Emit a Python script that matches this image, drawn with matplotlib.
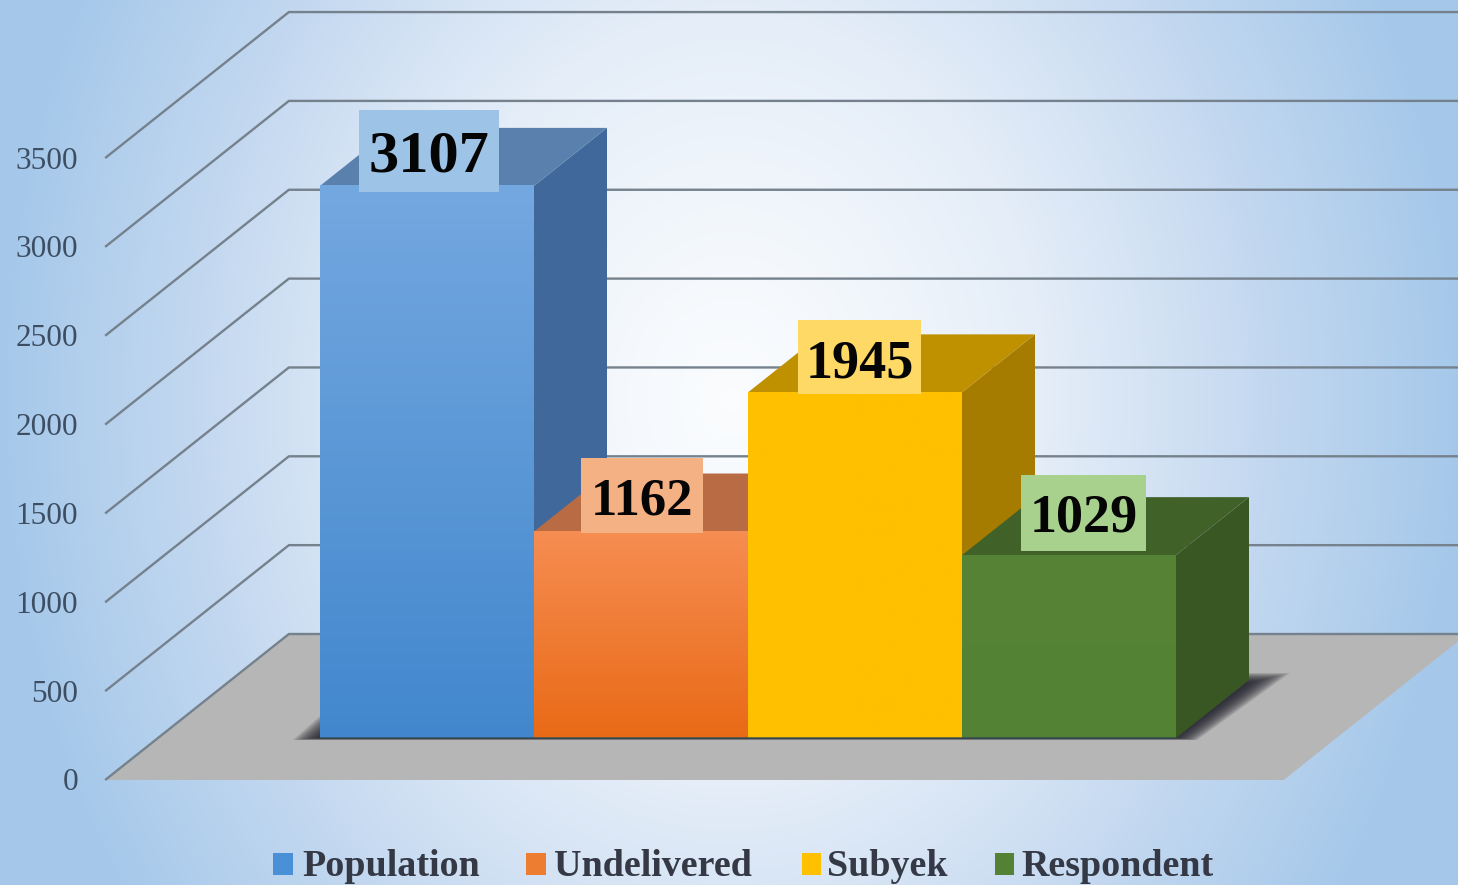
import numpy as np
import matplotlib
matplotlib.use('Agg')
import matplotlib.pyplot as plt
from matplotlib.colors import LinearSegmentedColormap
from matplotlib.patches import Polygon, Rectangle

# datos
categorias = ['Population', 'Undelivered', 'Subyek', 'Respondent']
valores = [3107, 1162, 1945, 1029]
ticks = [0, 500, 1000, 1500, 2000, 2500, 3000, 3500]

# colores de cada barra
frente_arriba = ['#74A8E0', '#F68D52', '#FFC000', '#568335']
frente_abajo = ['#4287CD', '#E96A16', '#FFC000', '#548235']
lado = ['#40689A', '#A85F38', '#A67C00', '#385723']
tapa = ['#5A80AE', '#B96C44', '#BF9000', '#406229']
caja = ['#9DC3E6', '#F4B183', '#FFD966', '#A9D18E']
leyenda_col = ['#4A90D6', '#ED7D31', '#FFC000', '#548235']

# escala en pixeles de la imagen
PX_CAT = 214.0
PX_VAL = 0.1777
X0 = 320.0
Y0 = 738.0
DX = 73.0 / PX_CAT
DY = 58.0 / PX_VAL
D_FRENTE = -0.724
D_FONDO = 1.793
X_IZQ = -0.757
X_DER = 4.75


def proy(x, v, d):
    # proyeccion oblicua: categoria, valor, profundidad
    return (x + d * DX, v + d * DY)


def px(xp, yp):
    # pixel de la imagen a coordenadas del eje
    return ((xp - X0) / PX_CAT, (Y0 - yp) / PX_VAL)


fig = plt.figure(figsize=(14.58, 8.85), dpi=100)
ax = fig.add_axes([0, 0, 1, 1])
xlim = ((0 - X0) / PX_CAT, (1458 - X0) / PX_CAT)
ylim = ((Y0 - 885) / PX_VAL, Y0 / PX_VAL)

# fondo con degradado radial
yy, xx = np.mgrid[0:885, 0:1458]
r = np.sqrt(((xx - 730) / 730.0) ** 2 + ((yy - 400) / 900.0) ** 2)
r = np.clip(r, 0, 1) ** 1.3
cmap_fondo = LinearSegmentedColormap.from_list('fondo', ['#FAFCFE', '#E4EDF8', '#C3D8F0', '#A5C8EA'])
ax.imshow(r, cmap=cmap_fondo, vmin=0, vmax=1, extent=(xlim[0], xlim[1], ylim[0], ylim[1]),
          origin='upper', aspect='auto', zorder=0, interpolation='bilinear')

# suelo
suelo = [proy(X_IZQ, 0, D_FRENTE), proy(X_DER, 0, D_FRENTE), proy(X_DER, 0, D_FONDO), proy(X_IZQ, 0, D_FONDO)]
ax.add_patch(Polygon(suelo, closed=True, fc='#B6B6B6', ec='none', zorder=1))

# rejilla
for t in ticks:
    xs, ys = zip(proy(X_IZQ, t, D_FRENTE), proy(X_IZQ, t, D_FONDO), proy(X_DER, t, D_FONDO))
    ax.plot(xs, ys, color='#75818C', lw=1.7, zorder=2, solid_capstyle='butt')
    xt, yt = px(78, 0)
    ax.text(xt, proy(X_IZQ, t, D_FRENTE)[1] - 3 / PX_VAL, str(t), ha='right', va='center',
            fontsize=22.5, color='#3E4E62', family='Liberation Serif', zorder=3)

# sombra bajo las barras, capas para simular el desenfoque
n = len(valores)
capas = 14
for i in range(capas):
    s = i / (capas - 1.0)
    forma = [proy(-0.115 + 0.115 * s, 0, -0.035 + 0.035 * s),
             proy(n + 0.11 - 0.11 * s, 0, -0.035 + 0.035 * s),
             proy(n + 0.15 - 0.13 * s, 0, 1.12 - 0.17 * s),
             proy(n - 0.2, 0, 1.12 - 0.17 * s),
             proy(-0.13 + 0.13 * s, 0, 0.4)]
    ax.add_patch(Polygon(forma, closed=True, fc='#20202A', ec='none', alpha=0.13, zorder=3))

# barras
for i, v in enumerate(valores):
    z = 4 + i
    ax.add_patch(Polygon([proy(i + 1, 0, 0), proy(i + 1, 0, 1), proy(i + 1, v, 1), proy(i + 1, v, 0)],
                         closed=True, fc=lado[i], ec='none', zorder=z))
    ax.add_patch(Polygon([proy(i, v, 0), proy(i + 1, v, 0), proy(i + 1, v, 1), proy(i, v, 1)],
                         closed=True, fc=tapa[i], ec='none', zorder=z))
    cm = LinearSegmentedColormap.from_list('b%d' % i, [frente_arriba[i], frente_abajo[i]])
    ax.imshow(np.linspace(0, 1, 256).reshape(-1, 1), cmap=cm, extent=(i, i + 1, 0, v), origin='upper',
              aspect='auto', zorder=z + 0.1)
    ax.plot([i, i + 1], [0, 0], color='#2F4A50', lw=1.4, alpha=0.7, zorder=z + 0.2, solid_capstyle='butt')

# etiquetas con caja
caja_x = [(359, 499), (581, 703), (798, 921), (1021, 1146)]
caja_y = [(110, 192), (458, 533), (320, 394), (475, 551)]
tam = [43.5, 38, 39, 39]
baja = [7, 6, 7, 5]
for i, v in enumerate(valores):
    x1, y1 = px(caja_x[i][0], caja_y[i][1])
    x2, y2 = px(caja_x[i][1], caja_y[i][0])
    ax.add_patch(Rectangle((x1, y1), x2 - x1, y2 - y1, fc=caja[i], ec='none', zorder=20))
    ax.text((x1 + x2) / 2, (y1 + y2) / 2 - baja[i] / PX_VAL, str(v), ha='center', va='center', fontsize=tam[i],
            fontweight='bold', color='#050505', family='Liberation Serif', zorder=21)

# leyenda
ley_cuad = [(273, 293), (526, 546), (802, 821), (995, 1014)]
ley_txt = [302, 554, 827, 1021]
for i, nom in enumerate(categorias):
    x1, y1 = px(ley_cuad[i][0], 875)
    x2, y2 = px(ley_cuad[i][1], 853)
    ax.add_patch(Rectangle((x1, y1), x2 - x1, y2 - y1, fc=leyenda_col[i], ec='none', zorder=20))
    xt, yt = px(ley_txt[i], 876)
    ax.text(xt, yt, nom, ha='left', va='baseline', fontsize=27.4, fontweight='bold',
            color='#353945', family='Liberation Serif', zorder=21)

ax.set_xlim(xlim)
ax.set_ylim(ylim)
ax.axis('off')
fig.savefig('out.png', dpi=100)
